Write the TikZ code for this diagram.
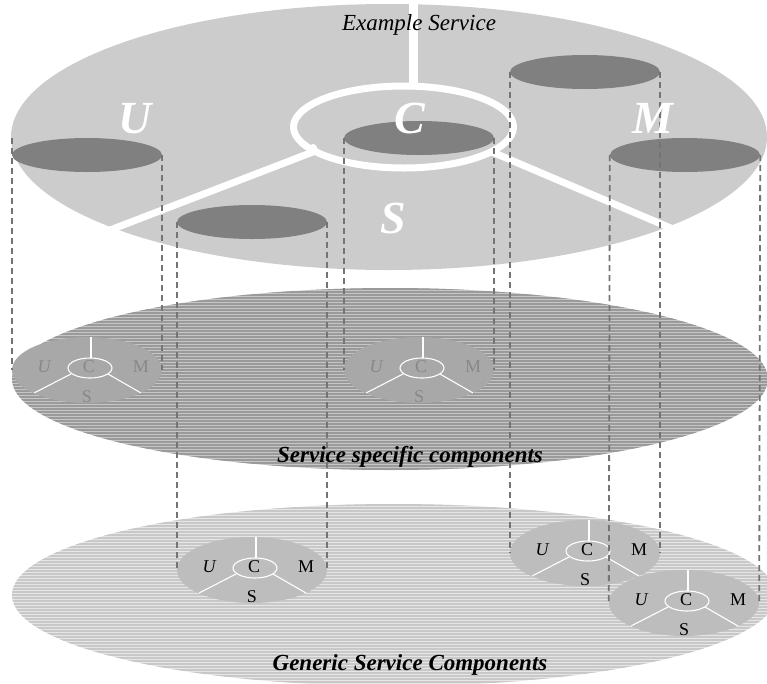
\documentclass[tikz,border=0pt]{standalone}
\usepackage{fontspec}
\setmainfont{Liberation Serif}
\usetikzlibrary{shapes.geometric,calc}

\definecolor{topgray}{HTML}{CCCCCC}
\definecolor{darkdisc}{HTML}{808080}
\definecolor{midbase}{HTML}{C6C6C6}
\definecolor{midline}{HTML}{9A9A9A}
\definecolor{lowbase}{HTML}{E6E6E6}
\definecolor{lowline}{HTML}{C8C8C8}
\definecolor{midcomp}{HTML}{A8A8A8}
\definecolor{midtext}{HTML}{888888}
\definecolor{lowcomp}{HTML}{BDBDBD}
\definecolor{dashgray}{HTML}{747474}

\tikzset{
  disc/.style={ellipse, draw=none, inner sep=0pt},
  topdisc/.style={disc, fill=darkdisc, minimum width=150pt, minimum height=34pt},
  dashlink/.style={draw=dashgray, line width=1.8pt, dash pattern=on 6pt off 4pt},
  divider/.style={white, line width=#1},
  biglabel/.style={text=white, font=\fontsize{46}{46}\selectfont\bfseries\itshape,
                   anchor=base, inner sep=0pt},
  caption/.style={font=\fontsize{23}{23}\selectfont\bfseries\itshape,
                  anchor=base, inner sep=0pt},
  complabel/.style={inner sep=0pt, font=\fontsize{18}{18}\selectfont},
  % striped layer: base fill plus horizontal rules every 3pt
  stripes/.style n args={3}{disc, fill=#1, path picture={
      \foreach \k in {0,...,#3}{
        \draw[#2, line width=1.5pt]
          ([yshift=-\k*3pt-1pt]path picture bounding box.north west) --
          ([yshift=-\k*3pt-1pt]path picture bounding box.north east);
      }}},
  % a U/C/M/S component disc
  pics/ucms/.style 2 args={code={
    \node[disc, fill=#1, minimum width=150pt, minimum height=66pt] (-body) at (0,0) {};
    \draw[white, line width=1.1pt] (3,-2) ellipse [x radius=22pt, y radius=10pt];
    \draw[white, line width=1.1pt] (4,-32.6) -- (4,-12);
    \draw[white, line width=1.1pt] (-16,4) -- (-53,23);
    \draw[white, line width=1.1pt] (21,4) -- (54,23);
    \node[complabel, text=#2, font=\fontsize{18}{18}\selectfont\itshape] (-u) at (-43,-3) {U};
    \node[complabel, text=#2] (-c) at (2,-3) {C};
    \node[complabel, text=#2] (-m) at (54,-3) {M};
    \node[complabel, text=#2] (-s) at (0,27) {S};
  }},
}

\begin{document}
\begin{tikzpicture}[x=1pt, y=-1pt]
\useasboundingbox (0,0) rectangle (767,683);

% lower layer: generic components
\node[stripes={lowbase}{lowline}{61}, minimum width=764pt, minimum height=182pt]
  (generic) at (394,595) {};
% middle layer: service specific components
\node[stripes={midbase}{midline}{61}, minimum width=756pt, minimum height=182pt]
  (specific) at (390,379) {};

\pic (m1) at (87,370) {ucms={midcomp}{midtext}};
\pic (m2) at (419,370) {ucms={midcomp}{midtext}};
\pic (b1) at (252,570) {ucms={lowcomp}{black}};
\pic (b2) at (585,553) {ucms={lowcomp}{black}};
\pic (b3) at (684,603) {ucms={lowcomp}{black}};

% upper layer: the example service
\node[disc, fill=topgray, minimum width=756pt, minimum height=266pt] (svc) at (389,137) {};
\draw[divider=7pt] (403.5,127) ellipse [x radius=110pt, y radius=41pt];
\draw[divider=9pt] (413,-2) -- (413,86);
\draw[divider=7pt] (318,150) -- (105,232);
\draw[divider=7pt] (492,152) -- (680,232);
\fill[white] (313,148) circle [radius=4pt];

\node[topdisc] (t1) at (87,155) {};
\node[topdisc] (t2) at (252,222) {};
\node[topdisc] (t3) at (419,138) {};
\node[topdisc] (t4) at (585,72) {};
\node[topdisc] (t5) at (685,155) {};

% projections of each service part onto the layers below
\draw[dashlink] ($(t1.west)+(0,-17)$) -- (m1-body.west);
\draw[dashlink] (t1.east) -- (m1-body.east);
\draw[dashlink] (t3.west) -- (m2-body.west);
\draw[dashlink] (t3.east) -- (m2-body.east);
\draw[dashlink] (t2.west) -- (b1-body.west);
\draw[dashlink] (t2.east) -- (b1-body.east);
\draw[dashlink] (t4.west) -- (b2-body.west);
\draw[dashlink] (t4.east) -- (b2-body.east);
\draw[dashlink] (t5.west) -- (b3-body.west);
\draw[dashlink] (t5.east) -- (b3-body.east);

% labels
\node[biglabel] (lu) at (135,133) {U};
\node[biglabel] (lc) at (410,133) {C};
\node[biglabel] (lm) at (653,133) {M};
\node[biglabel] (ls) at (393,233) {S};
\node[anchor=base, inner sep=0pt, font=\fontsize{23}{23}\selectfont\itshape]
  (title) at (419,30) {Example Service};
\node[caption] (capspec) at (410,462) {Service specific components};
\node[caption] (capgen) at (410,670) {Generic Service Components};
\end{tikzpicture}
\end{document}
